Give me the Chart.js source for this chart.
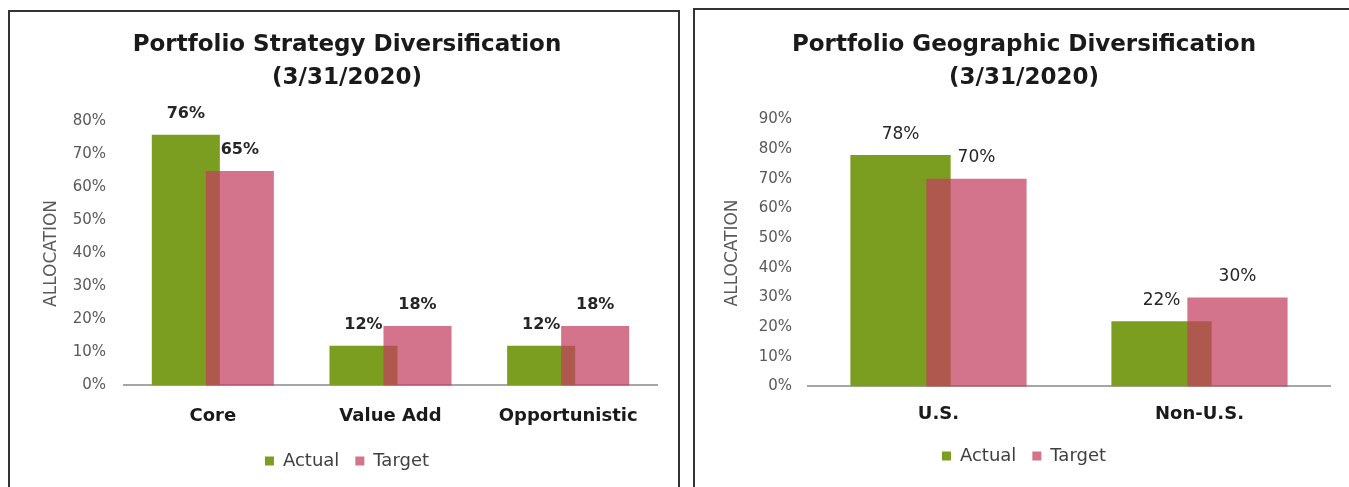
<!DOCTYPE html>
<html>
<head>
<meta charset="utf-8">
<script src="https://cdn.jsdelivr.net/npm/chart.js@4.4.1/dist/chart.umd.min.js"></script>
<style>
  html, body { margin: 0; padding: 0; background: #fff; overflow: hidden; }
  body { width: 1349px; height: 487px; position: relative; }
  .panel {
    position: absolute;
    box-sizing: border-box;
    border: 2px solid #333;
    border-bottom: none;
    background: #fff;
  }
  #left-panel { left: 8px; top: 10px; width: 672px; height: 490px; }
  #right-panel { left: 693px; top: 8px; width: 670px; height: 492px; }
  canvas { display: block; }
</style>
</head>
<body>
<div class="panel" id="left-panel"><canvas id="strategyChart" width="668" height="475"></canvas></div>
<div class="panel" id="right-panel"><canvas id="geoChart" width="660" height="477"></canvas></div>

<script>
// data
const seriesNames = ["Actual", "Target"];

const strategyCategories = ["Core", "Value Add", "Opportunistic"];
const strategyActual = [76, 12, 12];
const strategyTarget = [65, 18, 18];
const strategyMax = 80;

const geoCategories = ["U.S.", "Non-U.S."];
const geoActual = [78, 22];
const geoTarget = [70, 30];
const geoMax = 90;

const actualColor = "rgb(124,158,32)";
const targetColor = "rgba(196,62,96,0.72)";

Chart.defaults.font.family = "'DejaVu Sans', sans-serif";
Chart.defaults.color = "#595959";

// target bars sit on top of the actual bars, then the value labels
const overlapLabels = {
  id: "overlapLabels",
  beforeDatasetDraw(chart, args) {
    if (args.index === 1) return false;
  },
  afterDatasetsDraw(chart, args, opts) {
    chart.getDatasetMeta(1).controller.draw();

    const ctx = chart.ctx;
    ctx.save();
    ctx.font = opts.font;
    ctx.fillStyle = "#262626";
    ctx.textAlign = "center";
    ctx.textBaseline = "middle";
    chart.data.datasets.forEach((ds, i) => {
      chart.getDatasetMeta(i).data.forEach((bar, j) => {
        ctx.fillText(ds.data[j] + "%", bar.x, bar.y - 21);
      });
    });
    ctx.restore();
  },
};

function makeChart(id, s) {
  const ctx = document.getElementById(id).getContext("2d");
  return new Chart(ctx, {
    type: "bar",
    data: {
      labels: s.labels,
      datasets: [
        {
          label: seriesNames[0],
          data: s.actual,
          backgroundColor: actualColor,
          borderWidth: 0,
          categoryPercentage: s.catPct,
          barPercentage: s.barPct,
        },
        {
          label: seriesNames[1],
          data: s.target,
          backgroundColor: targetColor,
          borderWidth: 0,
          categoryPercentage: s.catPct,
          barPercentage: s.barPct,
        },
      ],
    },
    options: {
      responsive: false,
      animation: false,
      layout: { padding: s.padding },
      plugins: {
        title: {
          display: true,
          text: s.title,
          color: "#1a1a1a",
          font: { size: 23, weight: "bold", lineHeight: 1.435 },
          padding: s.titlePad,
        },
        legend: {
          position: "bottom",
          labels: {
            color: "#404040",
            font: { size: 18 },
            boxWidth: 9,
            boxHeight: 9,
            padding: 16,
          },
        },
        tooltip: { enabled: false },
        overlapLabels: { font: s.labelFont },
      },
      scales: {
        x: {
          grid: { display: false, drawTicks: false },
          border: { display: true, color: "#a6a6a6", width: 2 },
          ticks: {
            color: "#1a1a1a",
            font: { size: 18, weight: "bold" },
            padding: s.xTickPad,
          },
          afterFit: (scale) => {
            scale.height = s.xHeight;
          },
        },
        y: {
          min: 0,
          max: s.max,
          grid: { display: false, drawTicks: false },
          border: { display: false },
          ticks: {
            stepSize: 10,
            font: { size: 15 },
            padding: s.yTickPad,
            callback: (v) => v + "%",
          },
          title: {
            display: true,
            text: "ALLOCATION",
            color: "#595959",
            font: { size: 17 },
            padding: { top: 4, bottom: 4 },
          },
          afterFit: (scale) => {
            scale.width = s.yWidth;
          },
        },
      },
    },
    plugins: [overlapLabels],
  });
}

makeChart("strategyChart", {
  labels: strategyCategories,
  actual: strategyActual,
  target: strategyTarget,
  max: strategyMax,
  title: ["Portfolio Strategy Diversification", "(3/31/2020)"],
  titlePad: { top: 16.5, bottom: 27 },
  padding: { left: 27, right: 21, top: 0, bottom: 7 },
  catPct: 0.608,
  barPct: 1.26,
  xTickPad: 20,
  xHeight: 50.6,
  yTickPad: 18,
  yWidth: 87,
  labelFont: "bold 16px 'DejaVu Sans', sans-serif",
});

makeChart("geoChart", {
  labels: geoCategories,
  actual: geoActual,
  target: geoTarget,
  max: geoMax,
  title: ["Portfolio Geographic Diversification", "(3/31/2020)"],
  titlePad: { top: 18.5, bottom: 25 },
  padding: { left: 23, right: 25, top: 0, bottom: 12 },
  catPct: 0.582,
  barPct: 1.32,
  xTickPad: 17,
  xHeight: 44.6,
  yTickPad: 16,
  yWidth: 90,
  labelFont: "17px 'DejaVu Sans', sans-serif",
});
</script>
</body>
</html>
